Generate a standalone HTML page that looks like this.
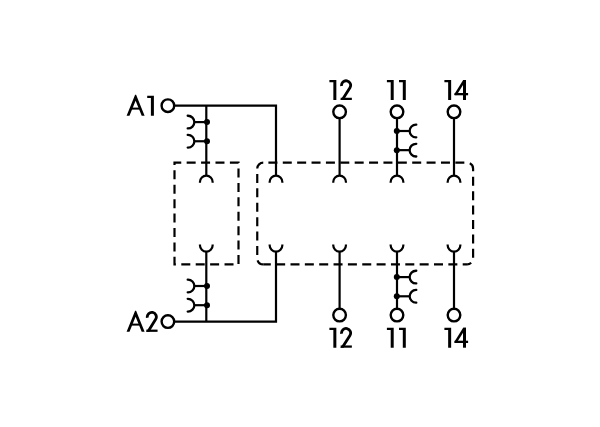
<!DOCTYPE html>
<html><head><meta charset="utf-8"><title>Diagram</title>
<style>
html,body{margin:0;padding:0;background:#fff;font-family:"Liberation Sans",sans-serif;}
svg{display:block}
</style></head><body>
<svg width="600" height="427" viewBox="0 0 600 427">
<defs><clipPath id="c1"><rect x="143.85" y="309.00" width="15.90" height="22.85"/></clipPath><clipPath id="c2"><rect x="338.15" y="77.35" width="15.90" height="22.65"/></clipPath><clipPath id="c3"><rect x="453.60" y="80.05" width="12.40" height="15.25"/></clipPath><clipPath id="c4"><rect x="338.15" y="325.05" width="15.90" height="22.65"/></clipPath><clipPath id="c5"><rect x="453.60" y="327.75" width="12.40" height="15.25"/></clipPath></defs>
<rect width="600" height="427" fill="#fff"/>
<g fill="none" stroke="#000" stroke-width="2.2">
<circle cx="167.9" cy="105.64999999999999" r="6.3" stroke-width="2.4"/>
<circle cx="167.9" cy="321.6" r="6.3" stroke-width="2.4"/>
<path d="M174.15,105.55 H276.0 V175.5"/>
<path d="M174.15,321.6 H276.0 V251.5"/>
<path d="M206.3,105.55 V175.5"/>
<path d="M206.3,321.6 V251.5"/>
<path d="M199.95000000000002,182.70000000000002 V181.9 A6.35,6.35 0 0 1 212.65,181.9 V182.70000000000002"/>
<path d="M199.95000000000002,244.39999999999998 V245.2 A6.35,6.35 0 0 0 212.65,245.2 V244.39999999999998"/>
<path d="M269.65,182.70000000000002 V181.9 A6.35,6.35 0 0 1 282.35,181.9 V182.70000000000002"/>
<path d="M269.65,244.39999999999998 V245.2 A6.35,6.35 0 0 0 282.35,245.2 V244.39999999999998"/>
<path d="M333.25,182.70000000000002 V181.9 A6.35,6.35 0 0 1 345.95000000000005,181.9 V182.70000000000002"/>
<path d="M333.25,244.39999999999998 V245.2 A6.35,6.35 0 0 0 345.95000000000005,245.2 V244.39999999999998"/>
<path d="M390.65,182.70000000000002 V181.9 A6.35,6.35 0 0 1 403.35,181.9 V182.70000000000002"/>
<path d="M390.65,244.39999999999998 V245.2 A6.35,6.35 0 0 0 403.35,245.2 V244.39999999999998"/>
<path d="M447.65,182.70000000000002 V181.9 A6.35,6.35 0 0 1 460.35,181.9 V182.70000000000002"/>
<path d="M447.65,244.39999999999998 V245.2 A6.35,6.35 0 0 0 460.35,245.2 V244.39999999999998"/>
<circle cx="339.6" cy="111.85" r="6.3" stroke-width="2.4"/>
<circle cx="339.6" cy="315.1" r="6.3" stroke-width="2.4"/>
<path d="M339.6,118.1 V175.5"/>
<path d="M339.6,308.75 V251.5"/>
<circle cx="397.0" cy="111.85" r="6.3" stroke-width="2.4"/>
<circle cx="397.0" cy="315.1" r="6.3" stroke-width="2.4"/>
<path d="M397.0,118.1 V175.5"/>
<path d="M397.0,308.75 V251.5"/>
<circle cx="454.0" cy="111.85" r="6.3" stroke-width="2.4"/>
<circle cx="454.0" cy="315.1" r="6.3" stroke-width="2.4"/>
<path d="M454.0,118.1 V175.5"/>
<path d="M454.0,308.75 V251.5"/>
<path d="M187.7,115.75 H188.0 A6.35,6.35 0 0 1 188.0,128.45 H187.7" stroke-width="2.3" stroke-linecap="round"/>
<path d="M194.35,122.1 H206.3"/>
<path d="M187.7,134.9 H188.0 A6.35,6.35 0 0 1 188.0,147.6 H187.7" stroke-width="2.3" stroke-linecap="round"/>
<path d="M194.35,141.25 H206.3"/>
<path d="M187.7,279.65 H188.0 A6.35,6.35 0 0 1 188.0,292.35 H187.7" stroke-width="2.3" stroke-linecap="round"/>
<path d="M194.35,286.0 H206.3"/>
<path d="M187.7,298.84999999999997 H188.0 A6.35,6.35 0 0 1 188.0,311.55 H187.7" stroke-width="2.3" stroke-linecap="round"/>
<path d="M194.35,305.2 H206.3"/>
<path d="M416.3,124.65 H416.0 A6.35,6.35 0 0 0 416.0,137.35 H416.3" stroke-width="2.3" stroke-linecap="round"/>
<path d="M409.65,131.0 H397.0"/>
<path d="M416.3,143.8 H416.0 A6.35,6.35 0 0 0 416.0,156.5 H416.3" stroke-width="2.3" stroke-linecap="round"/>
<path d="M409.65,150.15 H397.0"/>
<path d="M416.3,270.75 H416.0 A6.35,6.35 0 0 0 416.0,283.45000000000005 H416.3" stroke-width="2.3" stroke-linecap="round"/>
<path d="M409.65,277.1 H397.0"/>
<path d="M416.3,289.95 H416.0 A6.35,6.35 0 0 0 416.0,302.65000000000003 H416.3" stroke-width="2.3" stroke-linecap="round"/>
<path d="M409.65,296.3 H397.0"/>
<path d="M174.5,162.7 H238.5 V264.4 H174.5 Z" stroke-dasharray="9 5.41" stroke-dashoffset="2.25"/>
<path d="M263.25,264.4 A6,6 0 0 1 257.25,258.4 V168.7 A6,6 0 0 1 263.25,162.7" stroke-dasharray="9 5.41" stroke-dashoffset="1.8"/>
<path d="M263.25,162.7 H467.1" stroke-dasharray="9 5.38" stroke-dashoffset="9.23"/>
<path d="M467.1,162.7 A6,6 0 0 1 473.1,168.7 V258.4 A6,6 0 0 1 467.1,264.4" stroke-dasharray="9 5.41" stroke-dashoffset="11.6"/>
<path d="M467.1,264.4 H263.25" stroke-dasharray="9 5.35" stroke-dashoffset="4.6"/>
</g>
<g fill="#000">
<circle cx="207.0" cy="122.1" r="3.0"/>
<circle cx="207.0" cy="141.25" r="3.0"/>
<circle cx="207.0" cy="286.0" r="3.0"/>
<circle cx="207.0" cy="305.2" r="3.0"/>
<circle cx="396.8" cy="131.0" r="3.0"/>
<circle cx="396.8" cy="150.15" r="3.0"/>
<circle cx="396.8" cy="277.1" r="3.0"/>
<circle cx="396.8" cy="296.3" r="3.0"/>
<polygon points="126.60,115.85 135.10,94.85 136.10,94.85 144.60,115.85 141.70,115.85 135.60,100.78 129.50,115.85"/><rect x="131.93" y="107.60" width="7.33" height="2.0"/>
<polygon points="126.60,331.85 135.10,310.85 136.10,310.85 144.60,331.85 141.70,331.85 135.60,316.78 129.50,331.85"/><rect x="131.93" y="323.60" width="7.33" height="2.0"/>
<polygon points="147.20,95.75 153.90,95.75 153.90,115.85 150.90,115.85 150.90,97.90 147.20,97.90"/>
<g clip-path="url(#c1)"><path d="M147.32,317.74 A4.55,4.55 0 1 1 155.66,319.36 L146.79,333.55" fill="none" stroke="#000" stroke-width="2.8"/></g><rect x="146.35" y="329.60" width="11.20" height="2.25"/>
<polygon points="329.40,80.05 336.35,80.05 336.35,100.00 333.35,100.00 333.35,82.20 329.40,82.20"/>
<g clip-path="url(#c2)"><path d="M341.62,86.09 A4.55,4.55 0 1 1 349.94,87.74 L341.08,101.69" fill="none" stroke="#000" stroke-width="2.8"/></g><rect x="340.65" y="97.75" width="11.20" height="2.25"/>
<polygon points="386.90,80.05 393.70,80.05 393.70,100.00 390.70,100.00 390.70,82.20 386.90,82.20"/>
<polygon points="399.00,80.05 405.80,80.05 405.80,100.00 402.80,100.00 402.80,82.20 399.00,82.20"/>
<polygon points="444.40,80.05 451.15,80.05 451.15,100.00 448.15,100.00 448.15,82.20 444.40,82.20"/>
<rect x="463.00" y="80.05" width="3.0" height="19.95"/><rect x="454.60" y="93.00" width="13.50" height="2.3"/><g clip-path="url(#c3)"><path d="M465.40,78.85 L455.20,95.15" fill="none" stroke="#000" stroke-width="2.5"/></g>
<polygon points="329.40,327.75 336.35,327.75 336.35,347.70 333.35,347.70 333.35,329.90 329.40,329.90"/>
<g clip-path="url(#c4)"><path d="M341.62,333.79 A4.55,4.55 0 1 1 349.94,335.44 L341.08,349.39" fill="none" stroke="#000" stroke-width="2.8"/></g><rect x="340.65" y="345.45" width="11.20" height="2.25"/>
<polygon points="386.90,327.75 393.70,327.75 393.70,347.70 390.70,347.70 390.70,329.90 386.90,329.90"/>
<polygon points="399.00,327.75 405.80,327.75 405.80,347.70 402.80,347.70 402.80,329.90 399.00,329.90"/>
<polygon points="444.40,327.75 451.15,327.75 451.15,347.70 448.15,347.70 448.15,329.90 444.40,329.90"/>
<rect x="463.00" y="327.75" width="3.0" height="19.95"/><rect x="454.60" y="340.70" width="13.50" height="2.3"/><g clip-path="url(#c5)"><path d="M465.40,326.55 L455.20,342.85" fill="none" stroke="#000" stroke-width="2.5"/></g>
</g>
</svg>
</body></html>
